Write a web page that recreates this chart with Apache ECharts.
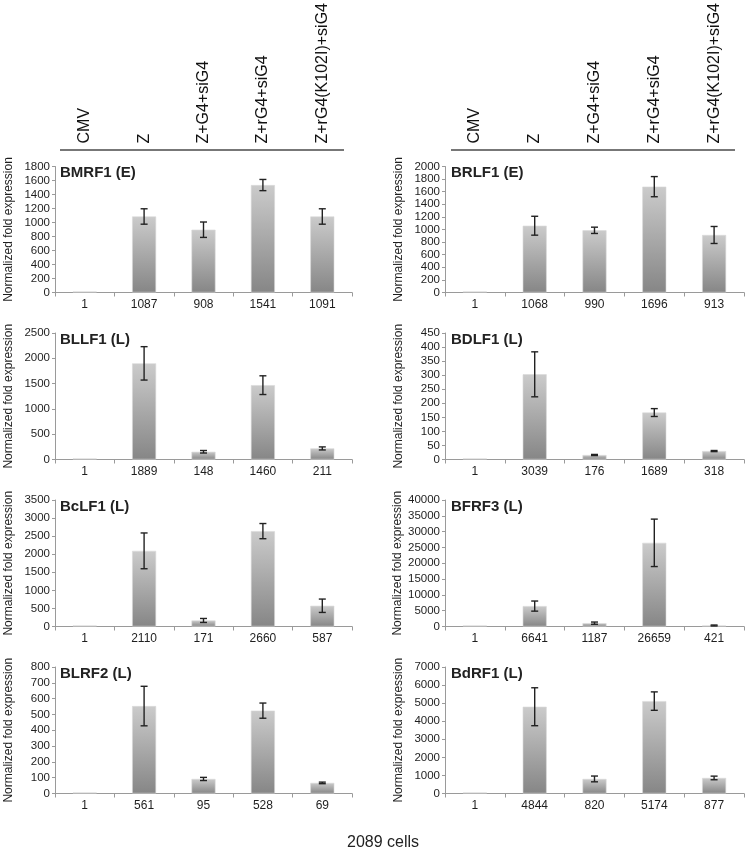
<!DOCTYPE html>
<html>
<head>
<meta charset="utf-8">
<script src="https://cdn.jsdelivr.net/npm/echarts@6/dist/echarts.min.js"></script>
<style>
html,body{margin:0;padding:0;background:#fff;}
#chart{width:748px;height:851px;}
</style>
</head>
<body>
<div id="chart"></div>
<script>
// ---- data ----
const categories = ['CMV', 'Z', 'Z+G4+siG4', 'Z+rG4+siG4', 'Z+rG4(K102I)+siG4'];
const panelTitles = ['BMRF1 (E)', 'BRLF1 (E)', 'BLLF1 (L)', 'BDLF1 (L)', 'BcLF1 (L)', 'BFRF3 (L)', 'BLRF2 (L)', 'BdRF1 (L)'];

const bmrf1Labels = ['1', '1087', '908', '1541', '1091'];
const bmrf1Values = [1, 1086, 897, 1535, 1086];
const bmrf1Errors = [0, 110, 110, 80, 110];

const brlf1Labels = ['1', '1068', '990', '1696', '913'];
const brlf1Values = [1, 1060, 987, 1680, 913];
const brlf1Errors = [0, 150, 50, 160, 135];

const bllf1Labels = ['1', '1889', '148', '1460', '211'];
const bllf1Values = [1, 1900, 153, 1469, 219];
const bllf1Errors = [0, 330, 25, 185, 30];

const bdlf1Labels = ['1', '3039', '176', '1689', '318'];
const bdlf1Values = [0.1, 303, 16, 167, 30];
const bdlf1Errors = [0, 80, 2, 14, 2];

const bclf1Labels = ['1', '2110', '171', '2660', '587'];
const bclf1Values = [1, 2093, 167, 2639, 574];
const bclf1Errors = [0, 495, 55, 210, 185];

const bfrf3Labels = ['1', '6641', '1187', '26659', '421'];
const bfrf3Values = [1, 6455, 1058, 26455, 317];
const bfrf3Errors = [0, 1600, 350, 7500, 150];

const blrf2Labels = ['1', '561', '95', '528', '69'];
const blrf2Values = [1, 553, 92, 524, 67];
const blrf2Errors = [0, 125, 10, 48, 5];

const bdrf1Labels = ['1', '4844', '820', '5174', '877'];
const bdrf1Values = [1, 4801, 806, 5113, 861];
const bdrf1Errors = [0, 1050, 160, 510, 100];

const yMax = [1800, 2000, 2500, 450, 3500, 40000, 800, 7000];
const yInterval = [200, 200, 500, 50, 500, 5000, 100, 1000];

const footerText = '2089 cells';
const yName = 'Normalized fold expression';

// ---- build ----
const panels = [
  [bmrf1Labels, bmrf1Values, bmrf1Errors],
  [brlf1Labels, brlf1Values, brlf1Errors],
  [bllf1Labels, bllf1Values, bllf1Errors],
  [bdlf1Labels, bdlf1Values, bdlf1Errors],
  [bclf1Labels, bclf1Values, bclf1Errors],
  [bfrf3Labels, bfrf3Values, bfrf3Errors],
  [blrf2Labels, blrf2Values, blrf2Errors],
  [bdrf1Labels, bdrf1Values, bdrf1Errors]
];

const FONT = '"Liberation Sans", Arial, sans-serif';
const colLeft = [55, 445];
const colWidth = [297, 299];
const rowTop = [166, 333, 500, 667];
const gridH = 126.5;
const axisGray = '#9a9a9a';
const textCol = '#1e1e1e';

const grids = [], xAxes = [], yAxes = [], series = [], titles = [];

panels.forEach((p, i) => {
  const row = Math.floor(i / 2), col = i % 2;
  grids.push({left: colLeft[col], top: rowTop[row], width: colWidth[col], height: gridH});
  xAxes.push({
    type: 'category', gridIndex: i, data: p[0], position: 'bottom',
    axisLine: {show: true, lineStyle: {color: axisGray, width: 1}},
    axisTick: {show: true, length: 4, lineStyle: {color: axisGray}},
    axisLabel: {fontSize: 12, color: textCol, fontFamily: FONT, margin: 6}
  });
  yAxes.push({
    type: 'value', gridIndex: i, min: 0, max: yMax[i], interval: yInterval[i],
    name: yName, nameLocation: 'middle', nameGap: 40,
    nameTextStyle: {fontSize: 12, color: textCol, fontFamily: FONT},
    axisLine: {show: true, lineStyle: {color: axisGray, width: 1}},
    axisTick: {show: true, length: 3, lineStyle: {color: axisGray}},
    axisLabel: {fontSize: 11.5, color: textCol, fontFamily: FONT, margin: 5, formatter: v => String(v)},
    splitLine: {show: false}
  });
  titles.push({
    text: panelTitles[i], left: colLeft[col] + 5 + (col ? 1 : 0), top: rowTop[row] - 1, padding: 0,
    textStyle: {fontSize: 15, fontWeight: 'bold', color: '#222', fontFamily: FONT}
  });
  series.push({
    type: 'bar', xAxisIndex: i, yAxisIndex: i, data: p[1], barWidth: 24, barMinHeight: 1,
    itemStyle: {
      color: new echarts.graphic.LinearGradient(0, 0, 0, 1, [
        {offset: 0, color: '#cbcbcb'}, {offset: 1, color: '#868686'}
      ]),
      borderColor: '#d8d8d8', borderWidth: 0.6
    },
    z: 2, silent: true, animation: false
  });
  series.push({
    type: 'custom', xAxisIndex: i, yAxisIndex: i, z: 10,
    data: p[1].map((v, k) => [k, v - p[2][k], v + p[2][k], p[2][k]]),
    renderItem: function (params, api) {
      if (api.value(3) === 0) return null;
      const k = api.value(0);
      const lo = api.coord([k, api.value(1)]);
      const hi = api.coord([k, api.value(2)]);
      const cap = 3.5;
      const st = {stroke: '#222', lineWidth: 1.4};
      return {
        type: 'group',
        children: [
          {type: 'line', shape: {x1: lo[0], y1: lo[1], x2: hi[0], y2: hi[1]}, style: st},
          {type: 'line', shape: {x1: hi[0] - cap, y1: hi[1], x2: hi[0] + cap, y2: hi[1]}, style: st},
          {type: 'line', shape: {x1: lo[0] - cap, y1: lo[1], x2: lo[0] + cap, y2: lo[1]}, style: st}
        ]
      };
    },
    silent: true, animation: false
  });
});

// header axes for top row
[0, 1].forEach(gi => {
  xAxes.push({
    type: 'category', gridIndex: gi, data: categories, position: 'top', offset: 16,
    axisLine: {show: false}, axisTick: {show: false},
    axisLabel: {rotate: -90, fontSize: 16, color: '#111', fontFamily: FONT, margin: 7, interval: 0}
  });
});

const option = {
  animation: false,
  backgroundColor: '#fff',
  title: titles,
  grid: grids,
  xAxis: xAxes,
  yAxis: yAxes,
  series: series,
  graphic: [
    {type: 'line', shape: {x1: 60, y1: 150, x2: 344, y2: 150}, style: {stroke: '#4a4a4a', lineWidth: 1.6}},
    {type: 'line', shape: {x1: 451, y1: 150, x2: 735, y2: 150}, style: {stroke: '#4a4a4a', lineWidth: 1.6}},
    {type: 'text', x: 383, y: 843, style: {text: footerText, fontSize: 16, fill: '#222', fontFamily: FONT, textAlign: 'center', textVerticalAlign: 'middle'}}
  ]
};

const chart = echarts.init(document.getElementById('chart'), null, {renderer: 'canvas'});
chart.setOption(option);
</script>
</body>
</html>
